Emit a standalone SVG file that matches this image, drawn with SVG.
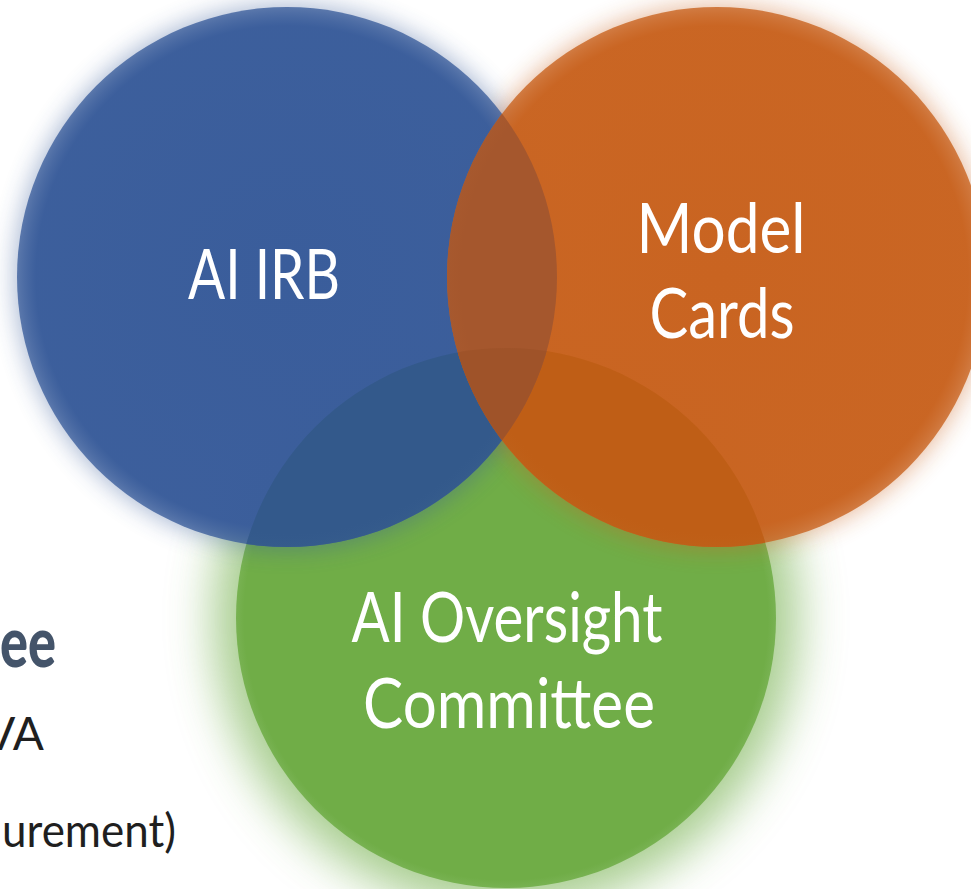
<svg xmlns="http://www.w3.org/2000/svg" width="971" height="889" viewBox="0 0 971 889">
  <defs>
    <style>
      .label { font-family: Lato, "Open Sans", "Liberation Sans", sans-serif; font-size: 70px; fill: #ffffff; text-anchor: middle; }
      .side { font-family: Lato, "Open Sans", "Liberation Sans", sans-serif; fill: #1f1f1f; }
      .side-head { font-family: Lato, "Open Sans", "Liberation Sans", sans-serif; font-weight: 900; fill: #44546a; }
    </style>
    <!-- soft halo around each circle -->
    <filter id="haze" x="-30%" y="-30%" width="160%" height="160%">
      <feGaussianBlur stdDeviation="12"/>
    </filter>
    <filter id="hazeWide" x="-40%" y="-40%" width="180%" height="180%">
      <feGaussianBlur stdDeviation="24"/>
    </filter>
    <!-- fills with a slightly see-through rim -->
    <radialGradient id="gBlue">
      <stop offset="0" stop-color="#3a5d9b"/>
      <stop offset="0.93" stop-color="#3a5d9b" stop-opacity="0.98"/>
      <stop offset="1" stop-color="#3a5d9b" stop-opacity="0.78"/>
    </radialGradient>
    <radialGradient id="gOrange">
      <stop offset="0" stop-color="#c96421"/>
      <stop offset="0.93" stop-color="#c96421" stop-opacity="0.98"/>
      <stop offset="1" stop-color="#c96421" stop-opacity="0.8"/>
    </radialGradient>
    <radialGradient id="gGreen">
      <stop offset="0" stop-color="#70ad47"/>
      <stop offset="0.97" stop-color="#70ad47"/>
      <stop offset="1" stop-color="#78b252"/>
    </radialGradient>
    <radialGradient id="gBG">
      <stop offset="0" stop-color="#33598b"/>
      <stop offset="0.95" stop-color="#33598b"/>
      <stop offset="1" stop-color="#33598b" stop-opacity="0.85"/>
    </radialGradient>
    <radialGradient id="gOG">
      <stop offset="0" stop-color="#bf5e16"/>
      <stop offset="0.95" stop-color="#bf5e16"/>
      <stop offset="1" stop-color="#bf5e16" stop-opacity="0.85"/>
    </radialGradient>
    <radialGradient id="gBO">
      <stop offset="0" stop-color="#a5572d"/>
      <stop offset="0.95" stop-color="#a5572d"/>
      <stop offset="1" stop-color="#a5572d" stop-opacity="0.85"/>
    </radialGradient>
    <radialGradient id="gBOG">
      <stop offset="0" stop-color="#9f5329"/>
      <stop offset="1" stop-color="#9f5329"/>
    </radialGradient>
    <clipPath id="clipBlue"><circle cx="287" cy="277" r="270"/></clipPath>
    <clipPath id="clipGreen"><circle cx="506" cy="618" r="270"/></clipPath>
  </defs>

  <rect width="971" height="889" fill="#ffffff"/>

  <!-- text running in from the left margin -->
  <g id="side-text">
    <text class="side-head" x="0" y="667" font-size="70" textLength="56" lengthAdjust="spacingAndGlyphs">ee</text>
    <text class="side" x="44" y="750" font-size="46" text-anchor="end">VA</text>
    <text class="side" x="2" y="847" font-size="47" textLength="174" lengthAdjust="spacingAndGlyphs">urement)</text>
  </g>

  <!-- lower circle -->
  <g id="node-ai-oversight-bg">
    <circle cx="506" cy="618" r="292" fill="#70ad47" opacity="0.62" filter="url(#hazeWide)"/>
    <circle cx="506" cy="618" r="270" fill="url(#gGreen)"/>
  </g>

  <!-- halos of the upper circles, beneath both fills -->
  <g id="halos">
    <circle cx="287" cy="277" r="272" fill="#3a5d9b" opacity="0.45" filter="url(#haze)"/>
    <circle cx="717" cy="277" r="272" fill="#c96421" opacity="0.45" filter="url(#haze)"/>
  </g>

  <g id="node-ai-irb">
    <circle cx="287" cy="277" r="270" fill="url(#gBlue)"/>
  </g>
  <g id="node-model-cards">
    <circle cx="717" cy="277" r="270" fill="url(#gOrange)"/>
  </g>

  <!-- shared regions -->
  <g id="overlaps">
    <circle cx="287" cy="277" r="270" fill="url(#gBG)" clip-path="url(#clipGreen)"/>
    <circle cx="717" cy="277" r="270" fill="url(#gOG)" clip-path="url(#clipGreen)"/>
    <circle cx="717" cy="277" r="270" fill="url(#gBO)" clip-path="url(#clipBlue)"/>
    <g clip-path="url(#clipBlue)">
      <circle cx="717" cy="277" r="270" fill="url(#gBOG)" clip-path="url(#clipGreen)"/>
    </g>
  </g>

  <!-- labels -->
  <g id="labels">
    <text class="label" x="264" y="299" textLength="152" lengthAdjust="spacingAndGlyphs">AI IRB</text>
    <text class="label" x="721" y="253" textLength="169" lengthAdjust="spacingAndGlyphs">Model</text>
    <text class="label" x="722" y="338" textLength="145" lengthAdjust="spacingAndGlyphs">Cards</text>
    <text class="label" x="507" y="642" textLength="311" lengthAdjust="spacingAndGlyphs">AI Oversight</text>
    <text class="label" x="509" y="728" textLength="292" lengthAdjust="spacingAndGlyphs">Committee</text>
  </g>
</svg>
